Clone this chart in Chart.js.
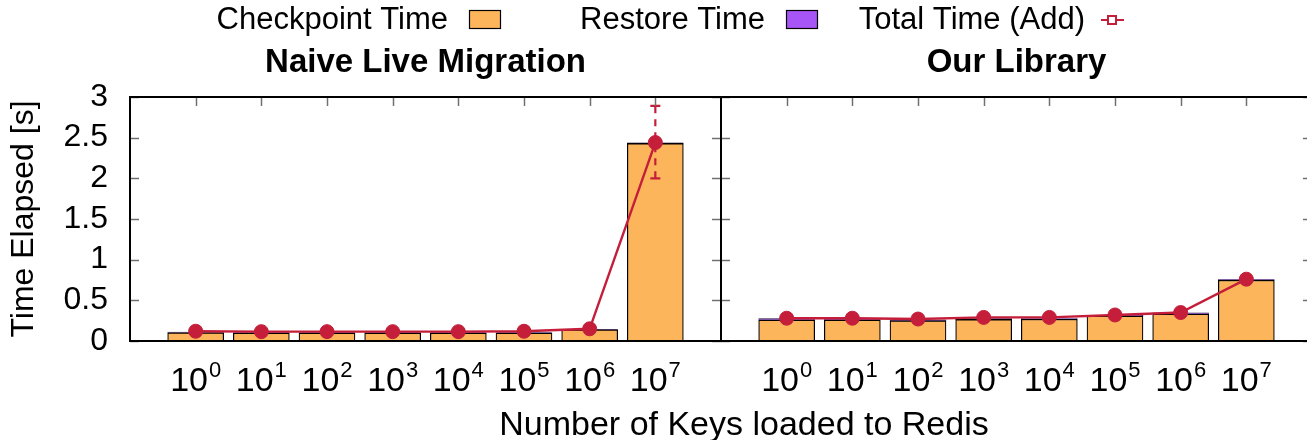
<!DOCTYPE html>
<html><head><meta charset="utf-8">
<script src="https://cdn.jsdelivr.net/npm/chart.js@4"></script>
<style>
html,body{margin:0;padding:0;background:#fff;overflow:hidden;width:1307px;height:440px;}
#wrap{position:absolute;left:0;top:0;width:1320px;height:440px;}
</style></head><body>
<div id="wrap"><canvas id="c" width="1320" height="440"></canvas></div>
<script>
// ---------- data ----------
const exponents = [0, 1, 2, 3, 4, 5, 6, 7];
const panelTitles = ['Naive Live Migration', 'Our Library'];
const seriesNames = ['Checkpoint Time', 'Restore Time', 'Total Time (Add)'];
const yTickValues = [0, 0.5, 1, 1.5, 2, 2.5, 3];
const xAxisTitle = 'Number of Keys loaded to Redis';
const yAxisTitle = 'Time Elapsed [s]';

const naiveCheckpoint = [0.105, 0.10, 0.10, 0.10, 0.10, 0.10, 0.14, 2.43];
const naiveRestore    = [0.005, 0.005, 0.005, 0.005, 0.005, 0.005, 0.005, 0.008];
const naiveTotal      = [0.12, 0.115, 0.115, 0.115, 0.115, 0.12, 0.15, 2.44];
const naiveTotalLow   = [0.11, 0.105, 0.105, 0.105, 0.105, 0.11, 0.14, 2.00];
const naiveTotalHigh  = [0.13, 0.125, 0.125, 0.125, 0.125, 0.13, 0.16, 2.89];

const libCheckpoint = [0.26, 0.26, 0.25, 0.265, 0.27, 0.31, 0.335, 0.75];
const libRestore    = [0.015, 0.01, 0.01, 0.01, 0.005, 0.005, 0.012, 0.005];
const libTotal      = [0.28, 0.28, 0.27, 0.29, 0.29, 0.32, 0.35, 0.76];
const libTotalLow   = [0.27, 0.27, 0.26, 0.28, 0.28, 0.31, 0.34, 0.75];
const libTotalHigh  = [0.29, 0.29, 0.28, 0.30, 0.30, 0.33, 0.36, 0.77];

// ---------- helpers ----------
const PANEL_OFFSET = 9;
const FONT = '"Liberation Sans", Arial, Helvetica, sans-serif';
const ORANGE = '#fdb55c', PURPLE = '#a855f7', RED = '#c41e3a';
const xOf = (p, i) => p * PANEL_OFFSET + i;
const pts = (p, arr) => arr.map((v, i) => ({x: xOf(p, i), y: v}));

const checkpointData = pts(0, naiveCheckpoint).concat(pts(1, libCheckpoint));
const restoreData = pts(0, naiveRestore).concat(pts(1, libRestore));
const totalData = pts(0, naiveTotal).concat([{x: 8, y: null}], pts(1, libTotal));
const errLow = pts(0, naiveTotalLow).concat(pts(1, libTotalLow));
const errHigh = pts(0, naiveTotalHigh).concat(pts(1, libTotalHigh));
const xTickPositions = exponents.map(e => xOf(0, e)).concat(exponents.map(e => xOf(1, e)));
const expOf = v => (v >= PANEL_OFFSET ? v - PANEL_OFFSET : v);

const framePlugin = {
  id: 'frame',
  beforeDatasetDraw(chart, args) {
    if (args.index !== 2) return;
    const {ctx, scales: {x, y}} = chart;
    ctx.save();
    ctx.strokeStyle = RED; ctx.lineWidth = 2.2;
    errLow.forEach((lo, k) => {
      const hi = errHigh[k];
      const px = x.getPixelForValue(lo.x);
      const y1 = y.getPixelForValue(lo.y), y2 = y.getPixelForValue(hi.y);
      ctx.setLineDash([7, 6]);
      ctx.beginPath(); ctx.moveTo(px, y1); ctx.lineTo(px, y2); ctx.stroke();
      ctx.setLineDash([]);
      ctx.beginPath();
      ctx.moveTo(px - 5, y1); ctx.lineTo(px + 5, y1);
      ctx.moveTo(px - 5, y2); ctx.lineTo(px + 5, y2);
      ctx.stroke();
    });
    ctx.restore();
  },
  afterDatasetsDraw(chart) {
    const {ctx, chartArea: a, scales: {x, y}} = chart;
    const xd = x.getPixelForValue(8);
    ctx.save();
    ctx.strokeStyle = '#707070'; ctx.lineWidth = 1.5;
    yTickValues.forEach(v => {
      const py = Math.round(y.getPixelForValue(v)) + 0.5;
      [[a.left, 9], [xd, -9], [xd, 9], [a.right, -9]].forEach(([px, d]) => {
        ctx.beginPath(); ctx.moveTo(px, py); ctx.lineTo(px + d, py); ctx.stroke();
      });
    });
    xTickPositions.forEach(v => {
      const px = Math.round(x.getPixelForValue(v)) + 0.5;
      ctx.beginPath(); ctx.moveTo(px, a.top); ctx.lineTo(px, a.top + 9); ctx.stroke();
    });
    ctx.strokeStyle = '#000'; ctx.lineWidth = 2;
    ctx.strokeRect(a.left, a.top, a.right - a.left, a.bottom - a.top);
    ctx.beginPath(); ctx.moveTo(xd, a.top); ctx.lineTo(xd, a.bottom); ctx.stroke();
    ctx.restore();
  },
  afterDraw(chart) {
    const {ctx, chartArea: a, scales: {x}} = chart;
    const xd = x.getPixelForValue(8);
    ctx.save();
    ctx.fillStyle = '#000';
    // x tick labels: 10 with superscript exponent
    ctx.textBaseline = 'alphabetic';
    ctx.textAlign = 'left';
    xTickPositions.forEach(v => {
      const base = '10', sup = String(expOf(v));
      ctx.font = '34px ' + FONT; const wb = ctx.measureText(base).width;
      ctx.font = '22px ' + FONT; const ws = ctx.measureText(sup).width;
      const cx = x.getPixelForValue(v);
      const sx = cx - (wb + ws + 1) / 2;
      ctx.font = '34px ' + FONT; ctx.fillText(base, sx, 391);
      ctx.font = '22px ' + FONT; ctx.fillText(sup, sx + wb + 1, 377);
    });
    // x axis title
    ctx.font = '34px ' + FONT;
    ctx.textAlign = 'center';
    ctx.fillText(xAxisTitle, 744, 435);
    // panel titles
    ctx.textBaseline = 'middle';
    ctx.font = 'bold 33px ' + FONT;
    ctx.fillText(panelTitles[0], (a.left + xd) / 2, 63);
    ctx.fillText(panelTitles[1], (xd + a.right) / 2, 63);
    // legend
    ctx.font = '31px ' + FONT;
    ctx.textAlign = 'right';
    const ly = 20;
    ctx.fillText(seriesNames[0], 448, ly);
    ctx.fillStyle = ORANGE; ctx.fillRect(469, 10, 31, 18);
    ctx.strokeStyle = '#000'; ctx.lineWidth = 1.2; ctx.strokeRect(469.5, 10.5, 31, 18);
    ctx.fillStyle = '#000';
    ctx.fillText(seriesNames[1], 765, ly);
    ctx.fillStyle = PURPLE; ctx.fillRect(786, 10, 31, 18);
    ctx.strokeRect(786.5, 10.5, 31, 18);
    ctx.fillStyle = '#000';
    ctx.fillText(seriesNames[2], 1085, ly);
    ctx.strokeStyle = RED; ctx.lineWidth = 2;
    ctx.beginPath(); ctx.moveTo(1101, ly); ctx.lineTo(1124, ly); ctx.stroke();
    ctx.fillStyle = '#fff';
    ctx.fillRect(1108, ly - 4, 8, 8); ctx.strokeRect(1108, ly - 4, 8, 8);
    ctx.restore();
  }
};

new Chart(document.getElementById('c'), {
  data: {
    datasets: [
      {type: 'bar', label: seriesNames[0], data: checkpointData, backgroundColor: ORANGE,
       borderColor: '#000', borderWidth: {top: 1.5, left: 1.2, right: 1.2, bottom: 0},
       barThickness: 56, stack: 'bars', order: 2},
      {type: 'bar', label: seriesNames[1], data: restoreData, backgroundColor: PURPLE,
       borderColor: '#1a1030', borderWidth: {top: 1.2, left: 1, right: 1, bottom: 0},
       barThickness: 56, stack: 'bars', order: 2},
      {type: 'line', label: seriesNames[2], data: totalData, borderColor: RED, backgroundColor: RED,
       borderWidth: 2.4, pointRadius: 7, pointBorderWidth: 1, pointStyle: 'circle',
       spanGaps: false, stack: 'line', order: 0, tension: 0}
    ]
  },
  options: {
    responsive: false, animation: false, devicePixelRatio: 1,
    layout: {padding: {left: 0, right: 7, top: 97, bottom: 0}},
    plugins: {legend: {display: false}, tooltip: {enabled: false}},
    scales: {
      x: {
        type: 'linear', min: -1, max: 17, stacked: true, offset: false,
        grid: {display: false, drawTicks: false}, border: {display: false},
        afterBuildTicks: s => { s.ticks = xTickPositions.map(v => ({value: v})); },
        ticks: {display: false},
        title: {display: false, text: xAxisTitle},
        afterFit: s => { s.height = 99; }
      },
      y: {
        min: 0, max: 3, stacked: true,
        grid: {display: false, drawTicks: false}, border: {display: false},
        afterBuildTicks: s => { s.ticks = yTickValues.map(v => ({value: v})); },
        ticks: {padding: 22, color: '#000', autoSkip: false, font: {family: FONT, size: 32},
                callback: v => String(v)},
        title: {display: true, text: yAxisTitle, color: '#000',
                font: {family: FONT, size: 32, lineHeight: 1}, padding: {top: 8, bottom: 0}},
        afterFit: s => { s.width = 130; }
      }
    }
  },
  plugins: [framePlugin]
});
</script>
</body></html>
